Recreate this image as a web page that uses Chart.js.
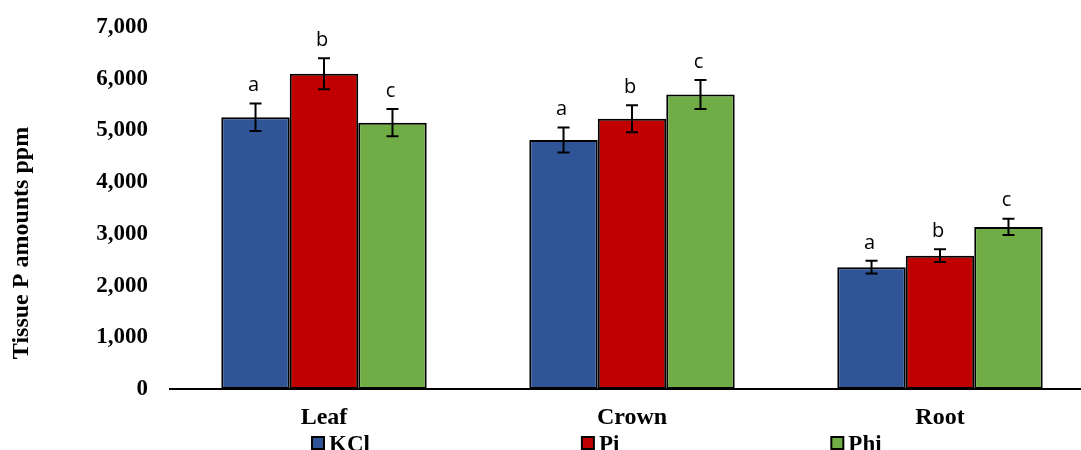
<!DOCTYPE html>
<html>
<head>
<meta charset="utf-8">
<script src="https://cdn.jsdelivr.net/npm/chart.js@4.4.1/dist/chart.umd.min.js"></script>
<style>
    html, body { margin: 0; padding: 0; background: #fff; overflow: hidden; }
    #box { width: 1096px; height: 450px; }
</style>
</head>
<body>
<div id="box"><canvas id="GraphiqueTissu" width="1096" height="450"></canvas></div>
<script>
// donnees
var categories = ["Leaf", "Crown", "Root"];
var series = ["KCl", "Pi", "Phi"];
var valeursKCl = [5255, 4815, 2355];
var valeursPi = [6095, 5225, 2578];
var valeursPhi = [5150, 5695, 3135];
var erreursKCl = [265, 240, 123];
var erreursPi = [300, 262, 123];
var erreursPhi = [262, 282, 158];
var lettresKCl = ["a", "a", "a"];
var lettresPi = ["b", "b", "b"];
var lettresPhi = ["c", "c", "c"];
var ticksY = [0, 1000, 2000, 3000, 4000, 5000, 6000, 7000];

var couleurs = ["#2F5597", "#C00000", "#70AD47"];
var serif = "'Liberation Serif', 'Times New Roman', serif";

function FaireDataset(nom, valeurs, erreurs, lettres, couleur) {
    return {
        label: nom,
        data: valeurs,
        erreurs: erreurs,
        lettres: lettres,
        backgroundColor: couleur,
        borderColor: "#000",
        borderWidth: 2,
        borderSkipped: false,
        categoryPercentage: 0.667,
        barPercentage: 1.0
    };
}

// barres d'erreur + lettres au dessus
var pluginErreurs = {
    id: "erreurs",
    afterDatasetsDraw: function (chart) {
        var ctx = chart.ctx;
        var y = chart.scales.y;
        chart.data.datasets.forEach(function (ds, i) {
            var meta = chart.getDatasetMeta(i);
            meta.data.forEach(function (bar, j) {
                var haut = y.getPixelForValue(ds.data[j] + ds.erreurs[j]);
                var bas = y.getPixelForValue(ds.data[j] - ds.erreurs[j]);
                ctx.save();
                ctx.strokeStyle = "#000";
                ctx.lineWidth = 2;
                ctx.beginPath();
                ctx.moveTo(bar.x, haut);
                ctx.lineTo(bar.x, bas);
                ctx.moveTo(bar.x - 6, haut);
                ctx.lineTo(bar.x + 6, haut);
                ctx.moveTo(bar.x - 6, bas);
                ctx.lineTo(bar.x + 6, bas);
                ctx.stroke();
                ctx.fillStyle = "#000";
                ctx.font = "20px 'Open Sans', sans-serif";
                ctx.textAlign = "center";
                ctx.textBaseline = "middle";
                ctx.fillText(ds.lettres[j], bar.x - 2, haut - 18);
                ctx.restore();
            });
        });
    }
};

// titre de l'axe Y et legende en bas
var pluginTextes = {
    id: "textes",
    afterDraw: function (chart) {
        var ctx = chart.ctx;
        ctx.save();
        ctx.fillStyle = "#000";
        ctx.font = "bold 24px " + serif;
        ctx.textAlign = "center";
        ctx.textBaseline = "middle";
        ctx.translate(22, 243);
        ctx.rotate(-Math.PI / 2);
        ctx.fillText("Tissue P amounts ppm", 0, 0);
        ctx.restore();

        ctx.save();
        ctx.font = "bold 23px " + serif;
        ctx.textBaseline = "alphabetic";
        var x = 312;
        chart.data.datasets.forEach(function (ds) {
            ctx.fillStyle = ds.backgroundColor;
            ctx.fillRect(x, 437, 12, 12);
            ctx.strokeStyle = "#000";
            ctx.lineWidth = 2;
            ctx.strokeRect(x, 437, 12, 12);
            ctx.fillStyle = "#000";
            ctx.fillText(ds.label, x + 17, 451);
            x = x + 17 + ctx.measureText(ds.label).width + 212;
        });
        ctx.restore();
    }
};

var ctx = document.getElementById("GraphiqueTissu").getContext("2d");

var graphique = new Chart(ctx, {
    type: "bar",
    data: {
        labels: categories,
        datasets: [
            FaireDataset(series[0], valeursKCl, erreursKCl, lettresKCl, couleurs[0]),
            FaireDataset(series[1], valeursPi, erreursPi, lettresPi, couleurs[1]),
            FaireDataset(series[2], valeursPhi, erreursPhi, lettresPhi, couleurs[2])
        ]
    },
    options: {
        responsive: false,
        animation: false,
        layout: { padding: { top: 27, right: 2, left: 0, bottom: 0 } },
        plugins: {
            legend: { display: false },
            tooltip: { enabled: false }
        },
        scales: {
            x: {
                grid: { display: false, drawTicks: false },
                border: { display: true, color: "#000", width: 2 },
                ticks: { color: "#000", padding: 14, font: { family: serif, size: 24, weight: "bold" } },
                afterFit: function (scale) { scale.height = 61; }
            },
            y: {
                min: 0,
                max: 7000,
                afterBuildTicks: function (scale) {
                    scale.ticks = ticksY.map(function (v) { return { value: v }; });
                },
                grid: { display: false, drawTicks: false },
                border: { display: false },
                ticks: {
                    color: "#000",
                    padding: 22,
                    font: { family: serif, size: 23, weight: "bold" },
                    callback: function (v) { return v.toLocaleString("en-US"); }
                },
                afterFit: function (scale) {
                    scale.width = 170;
                    scale.paddingTop = 12;
                    scale.paddingBottom = 12;
                }
            }
        }
    },
    plugins: [pluginErreurs, pluginTextes]
});
</script>
</body>
</html>
